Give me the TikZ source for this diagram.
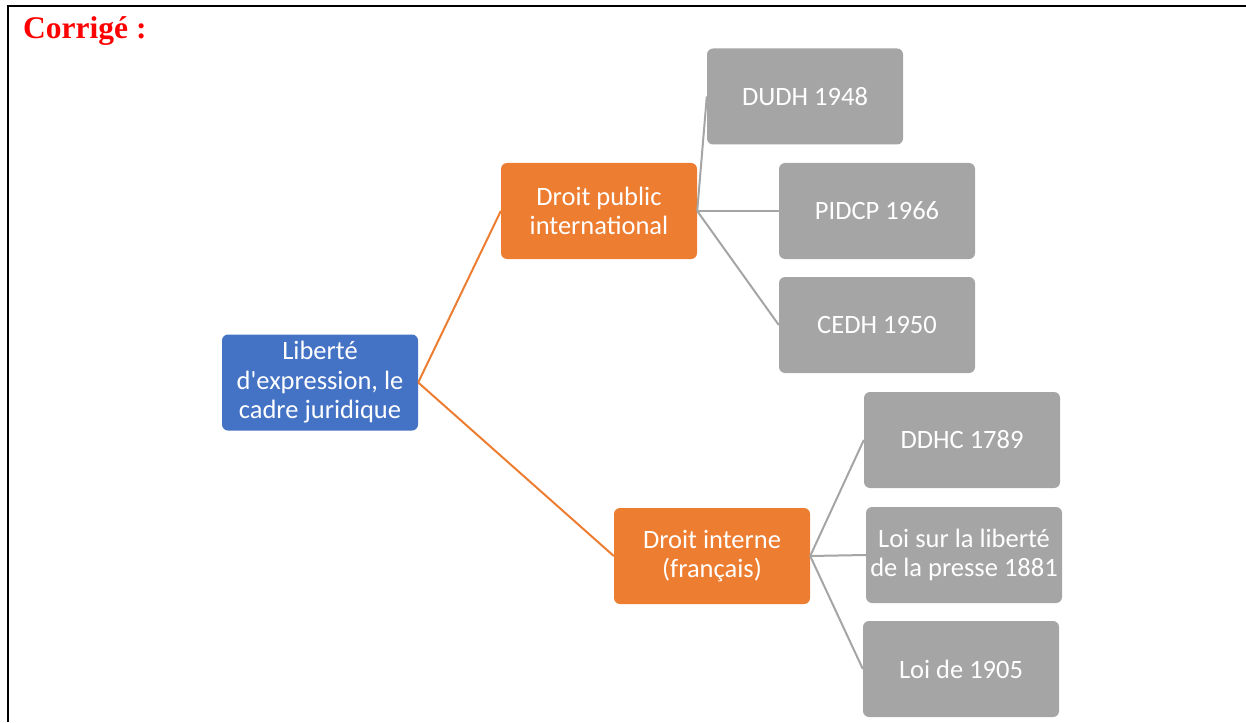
\documentclass[tikz,border=0pt]{standalone}
\usepackage{fontspec}
\setmainfont{Carlito}
\newfontfamily\titlefont{Liberation Serif}
\definecolor{blueA}{HTML}{4472C4}
\definecolor{orangeA}{HTML}{ED7D31}
\definecolor{grayA}{HTML}{A5A5A5}
\begin{document}
\begin{tikzpicture}[x=1pt,y=-1pt,
  box/.style={rounded corners=6pt, minimum width=196pt, minimum height=96pt, text=white, align=center, inner sep=0pt, font=\fontsize{26.5}{29.5}\selectfont},
  rootbox/.style={box, fill=blueA},
  midbox/.style={box, fill=orangeA},
  leafbox/.style={box, fill=grayA},
  olink/.style={draw=orangeA, line width=2pt},
  glink/.style={draw=grayA, line width=2pt}]
\useasboundingbox (0,0) rectangle (1246,722);
\draw[line width=1.7pt] (7.8,722) -- (7.8,5.8) -- (1246,5.8);
\node[anchor=base west, text=red, font=\titlefont\bfseries\fontsize{31.5}{36}\selectfont, inner sep=0pt] (title) at (23,39) {Corrigé :};

\node[rootbox] (root) at (320,382.5) {Liberté\\d\textquotesingle expression, le\\cadre juridique};
\node[midbox] (pub) at (599,211) {Droit public\\international};
\node[midbox] (int) at (712,556) {Droit interne\\(français)};
\node[leafbox] (dudh) at (805,96.5) {DUDH 1948};
\node[leafbox] (pidcp) at (877,211) {PIDCP 1966};
\node[leafbox] (cedh) at (877,325) {CEDH 1950};
\node[leafbox] (ddhc) at (962,440) {DDHC 1789};
\node[leafbox] (loi) at (964,555) {Loi sur la liberté\\de la presse 1881};
\node[leafbox] (loi05) at (961,669) {Loi de 1905};

\draw[olink] (root.east) -- (pub.west);
\draw[olink] (root.east) -- (int.west);
\draw[glink] (pub.east) -- (dudh.west);
\draw[glink] (pub.east) -- (pidcp.west);
\draw[glink] (pub.east) -- (cedh.west);
\draw[glink] (int.east) -- (ddhc.west);
\draw[glink] (int.east) -- (loi.west);
\draw[glink] (int.east) -- (loi05.west);
\end{tikzpicture}
\end{document}
